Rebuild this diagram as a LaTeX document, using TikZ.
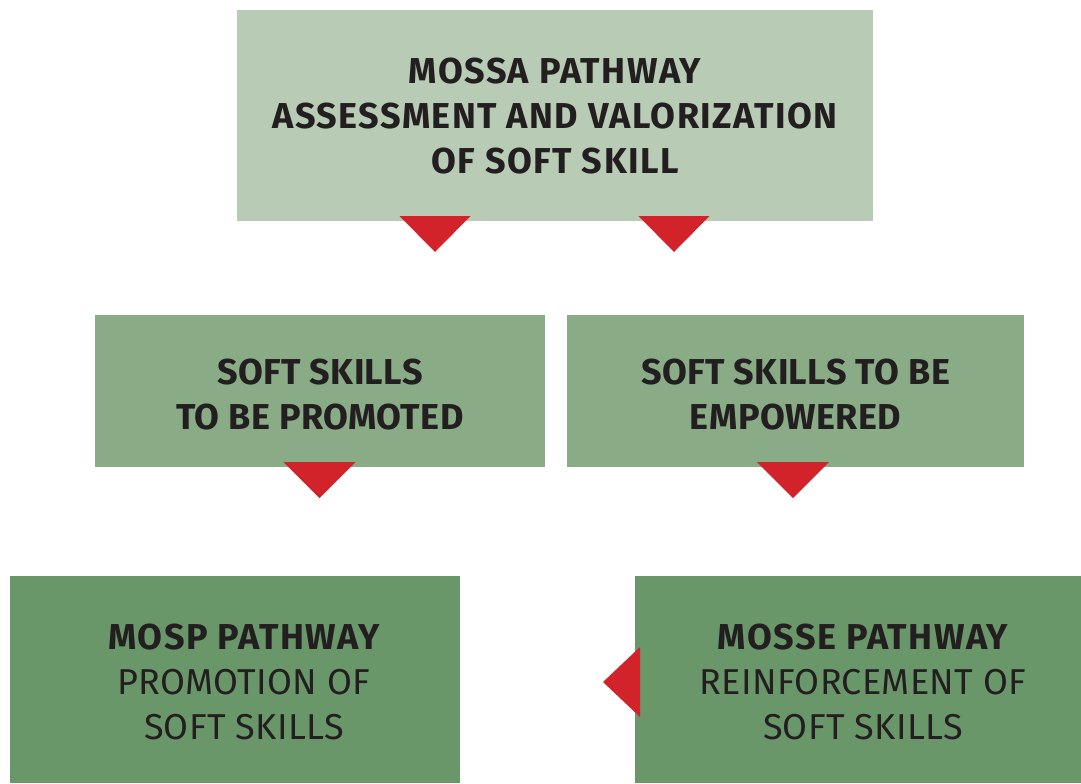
\documentclass[tikz,border=0pt]{standalone}
\usepackage{fontspec}
\setmainfont{Fira Sans}[BoldFeatures={LetterSpace=4}, UprightFeatures={LetterSpace=1}]
\newfontfamily\midfont{Fira Sans}[BoldFeatures={LetterSpace=1.2}]
\definecolor{boxtop}{HTML}{B8CBB5}
\definecolor{boxmid}{HTML}{89AC86}
\definecolor{boxbot}{HTML}{6A9769}
\definecolor{tri}{HTML}{D2232A}
\definecolor{ink}{HTML}{231F20}
\begin{document}
\begin{tikzpicture}[x=0.75pt,y=-0.75pt,
  box/.style={rectangle, inner sep=0pt, outer sep=0pt},
  label/.style={inner sep=0pt, align=center, text=ink,
    font=\fontsize{27}{33.75}\selectfont},
  tridown/.style={fill=tri},
]
\useasboundingbox (0,0) rectangle (1081,783);
\fill[white] (0,0) rectangle (1081,783);
\node[box, fill=boxtop, minimum width=636*0.75pt, minimum height=211*0.75pt] (top) at (555,115.5) {};
\node[box, fill=boxmid, minimum width=450*0.75pt, minimum height=152*0.75pt] (ml) at (320,391) {};
\node[box, fill=boxmid, minimum width=457*0.75pt, minimum height=152*0.75pt] (mr) at (795.5,391) {};
\node[box, fill=boxbot, minimum width=450*0.75pt, minimum height=207*0.75pt] (bl) at (235,679.5) {};
\node[box, fill=boxbot, minimum width=446*0.75pt, minimum height=207*0.75pt] (br) at (858,679.5) {};
% texts
\node[label] (topt) at ([yshift=-0.5*0.75pt]top.center)
  {\bfseries MOSSA PATHWAY\\\bfseries ASSESSMENT AND VALORIZATION\\\bfseries OF SOFT SKILL};
\node[label, font=\fontsize{27}{33.75}\midfont] (mlt) at ([yshift=-3.5*0.75pt]ml.center)
  {\bfseries SOFT SKILLS\\\bfseries TO BE PROMOTED};
\node[label, font=\fontsize{27}{33.75}\midfont] (mrt) at ([yshift=-3.5*0.75pt]mr.center)
  {\bfseries SOFT SKILLS TO BE\\\bfseries EMPOWERED};
\node[label] (blt) at ([xshift=9*0.75pt,yshift=-2.5*0.75pt]bl.center)
  {\bfseries MOSP PATHWAY\\PROMOTION OF\\SOFT SKILLS};
\node[label] (brt) at ([xshift=5*0.75pt,yshift=-2.5*0.75pt]br.center)
  {\bfseries MOSSE PATHWAY\\REINFORCEMENT OF\\SOFT SKILLS};
% down triangles
\fill[tridown] ([xshift=-155.5*0.75pt,yshift=5*0.75pt]top.south) -- ++(71,0) -- ++(-35.5,36) -- cycle;
\fill[tridown] ([xshift=83.5*0.75pt,yshift=5*0.75pt]top.south) -- ++(71,0) -- ++(-35.5,36) -- cycle;
\fill[tridown] ([xshift=-36.5*0.75pt,yshift=5*0.75pt]ml.south) -- ++(72,0) -- ++(-36,36) -- cycle;
\fill[tridown] ([xshift=-38.5*0.75pt,yshift=5*0.75pt]mr.south) -- ++(72,0) -- ++(-36,36) -- cycle;
% left-pointing triangle
\fill[tri] ([xshift=5*0.75pt,yshift=32.5*0.75pt]br.west) -- ++(0,70) -- ++(-37,-35) -- cycle;
\end{tikzpicture}
\end{document}
